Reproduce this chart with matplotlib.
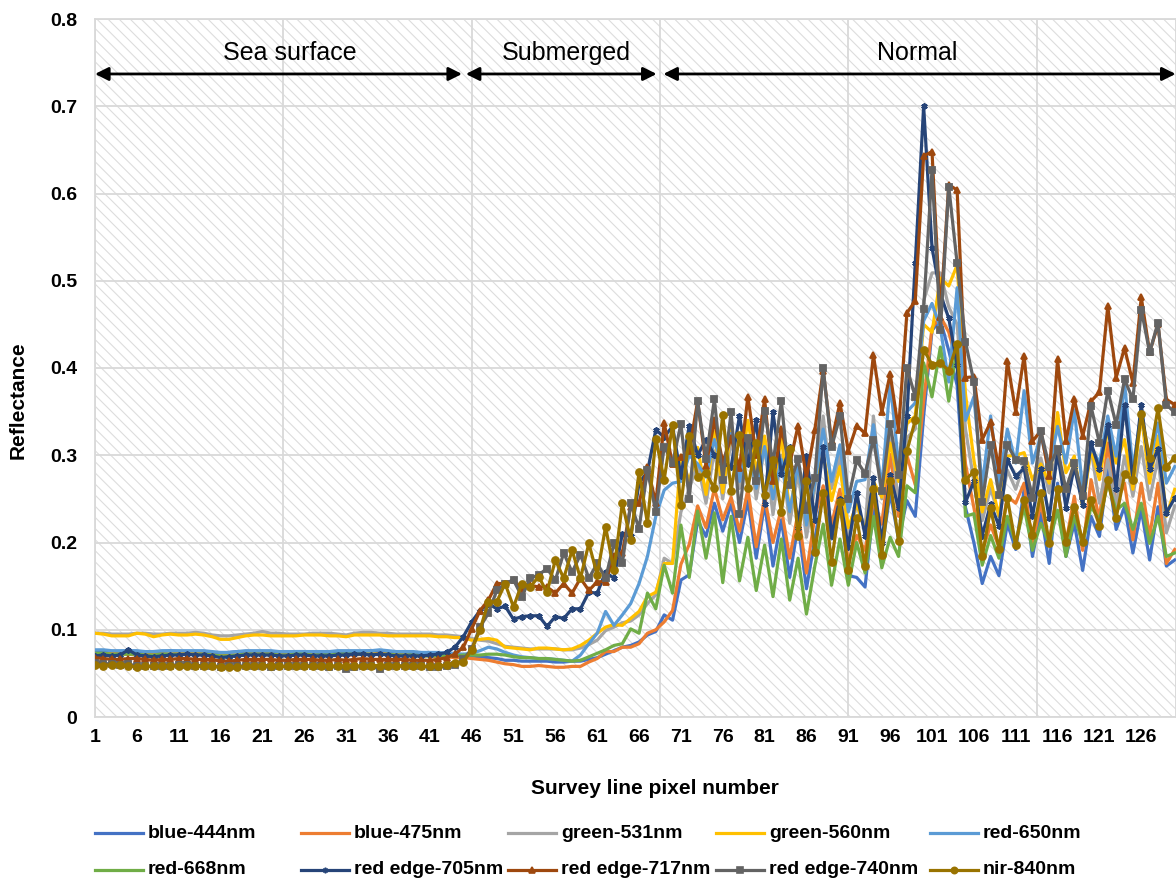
import numpy as np
import matplotlib.pyplot as plt
from matplotlib.lines import Line2D
from matplotlib.patches import Rectangle

plt.rcParams['font.family'] = ['Liberation Sans', 'DejaVu Sans']
plt.rcParams['font.weight'] = 'bold'
plt.rcParams['hatch.linewidth'] = 0.8

# survey line pixel numbers 1..130
pixel = np.arange(1, 131)

blue_444 = [0.075, 0.076, 0.075, 0.075, 0.076, 0.075, 0.074, 0.075, 0.075, 0.076,
            0.075, 0.075, 0.074, 0.075, 0.074, 0.073, 0.074, 0.075, 0.075, 0.075,
            0.075, 0.074, 0.074, 0.074, 0.075, 0.075, 0.074, 0.074, 0.074, 0.075,
            0.075, 0.075, 0.075, 0.076, 0.076, 0.075, 0.074, 0.074, 0.074, 0.073,
            0.073, 0.073,
            0.072, 0.071, 0.070, 0.070, 0.069, 0.068, 0.067, 0.065, 0.065, 0.064,
            0.064, 0.064, 0.064, 0.063, 0.063, 0.064, 0.064, 0.066, 0.068, 0.072,
            0.076, 0.080, 0.082, 0.086, 0.094, 0.098, 0.117, 0.111,
            0.157, 0.163, 0.225, 0.207, 0.245, 0.213, 0.244, 0.200, 0.248, 0.182,
            0.245, 0.173, 0.226, 0.160, 0.221, 0.147, 0.204, 0.257, 0.204, 0.252,
            0.162, 0.160, 0.149, 0.239, 0.191, 0.257, 0.204, 0.248, 0.230,
            0.345, 0.443, 0.455, 0.420, 0.380, 0.240, 0.200, 0.153, 0.184, 0.162,
            0.222, 0.192, 0.261, 0.184, 0.234, 0.176, 0.268, 0.184, 0.222, 0.168,
            0.230, 0.207, 0.284, 0.215, 0.241, 0.188, 0.238, 0.180, 0.241, 0.173,
            0.180]

blue_475 = [0.072, 0.072, 0.073, 0.072, 0.072, 0.071, 0.071, 0.072, 0.072, 0.072,
            0.073, 0.074, 0.073, 0.072, 0.071, 0.070, 0.071, 0.071, 0.072, 0.072,
            0.072, 0.072, 0.071, 0.071, 0.072, 0.072, 0.071, 0.070, 0.070, 0.071,
            0.071, 0.071, 0.072, 0.072, 0.073, 0.072, 0.071, 0.071, 0.070, 0.070,
            0.070, 0.069,
            0.069, 0.068, 0.068, 0.067, 0.066, 0.065, 0.063, 0.061, 0.060, 0.058,
            0.058, 0.059, 0.058, 0.057, 0.057, 0.058, 0.058, 0.063, 0.067, 0.075,
            0.075, 0.080, 0.080, 0.084, 0.096, 0.100, 0.109, 0.122,
            0.175, 0.198, 0.242, 0.217, 0.262, 0.226, 0.252, 0.213, 0.261, 0.195,
            0.252, 0.200, 0.239, 0.182, 0.235, 0.165, 0.230, 0.265, 0.221, 0.261,
            0.176, 0.208, 0.191, 0.248, 0.221, 0.301, 0.230, 0.300, 0.266,
            0.362, 0.446, 0.459, 0.441, 0.406, 0.290, 0.240, 0.190, 0.220, 0.195,
            0.253, 0.245, 0.268, 0.199, 0.245, 0.199, 0.261, 0.199, 0.253, 0.191,
            0.272, 0.226, 0.314, 0.245, 0.268, 0.203, 0.268, 0.207, 0.268, 0.176,
            0.192]

green_531 = [0.096, 0.096, 0.095, 0.095, 0.095, 0.096, 0.096, 0.095, 0.095, 0.096,
             0.096, 0.096, 0.097, 0.096, 0.094, 0.093, 0.093, 0.094, 0.095, 0.096,
             0.098, 0.096, 0.096, 0.095, 0.095, 0.095, 0.096, 0.096, 0.096, 0.095,
             0.094, 0.096, 0.097, 0.097, 0.096, 0.096, 0.095, 0.095, 0.095, 0.095,
             0.095, 0.094,
             0.094, 0.093, 0.092, 0.090, 0.088, 0.087, 0.084, 0.081, 0.080, 0.079,
             0.078, 0.078, 0.078, 0.078, 0.077, 0.077, 0.079, 0.083, 0.088, 0.099,
             0.103, 0.108, 0.110, 0.117, 0.130, 0.140, 0.182, 0.176,
             0.235, 0.262, 0.290, 0.245, 0.305, 0.250, 0.318, 0.262, 0.320, 0.250,
             0.310, 0.232, 0.300, 0.222, 0.280, 0.206, 0.262, 0.345, 0.262, 0.300,
             0.200, 0.245, 0.215, 0.345, 0.250, 0.330, 0.245, 0.320, 0.330,
             0.477, 0.509, 0.509, 0.470, 0.450, 0.330, 0.270, 0.225, 0.262, 0.230,
             0.283, 0.261, 0.291, 0.253, 0.297, 0.257, 0.307, 0.245, 0.295, 0.245,
             0.307, 0.245, 0.295, 0.242, 0.299, 0.253, 0.310, 0.249, 0.297, 0.211,
             0.242]

green_560 = [0.096, 0.095, 0.093, 0.093, 0.093, 0.096, 0.095, 0.092, 0.094, 0.095,
             0.094, 0.094, 0.095, 0.094, 0.092, 0.089, 0.089, 0.091, 0.093, 0.094,
             0.094, 0.093, 0.093, 0.093, 0.093, 0.094, 0.094, 0.094, 0.093, 0.093,
             0.092, 0.094, 0.094, 0.094, 0.094, 0.093, 0.093, 0.093, 0.093, 0.093,
             0.093, 0.092,
             0.092, 0.091, 0.091, 0.088, 0.089, 0.090, 0.088, 0.080, 0.079, 0.078,
             0.077, 0.079, 0.079, 0.078, 0.077, 0.078, 0.082, 0.088, 0.096, 0.103,
             0.106, 0.105, 0.113, 0.121, 0.138, 0.143, 0.176, 0.176,
             0.300, 0.270, 0.309, 0.255, 0.327, 0.257, 0.332, 0.274, 0.340, 0.283,
             0.322, 0.257, 0.322, 0.235, 0.292, 0.221, 0.270, 0.301, 0.248, 0.287,
             0.217, 0.244, 0.213, 0.270, 0.252, 0.314, 0.270, 0.336, 0.345,
             0.450, 0.441, 0.503, 0.494, 0.518, 0.370, 0.295, 0.235, 0.272, 0.230,
             0.299, 0.300, 0.303, 0.272, 0.290, 0.268, 0.349, 0.280, 0.299, 0.241,
             0.307, 0.272, 0.330, 0.291, 0.318, 0.261, 0.347, 0.268, 0.322, 0.230,
             0.261]

red_650 = [0.077, 0.077, 0.076, 0.076, 0.076, 0.076, 0.075, 0.075, 0.076, 0.076,
           0.076, 0.076, 0.076, 0.076, 0.075, 0.074, 0.074, 0.075, 0.076, 0.076,
           0.076, 0.076, 0.075, 0.075, 0.075, 0.075, 0.075, 0.075, 0.075, 0.076,
           0.076, 0.076, 0.076, 0.076, 0.077, 0.076, 0.075, 0.075, 0.075, 0.074,
           0.074, 0.074,
           0.073, 0.073, 0.072, 0.073, 0.076, 0.080, 0.078, 0.074, 0.071, 0.069,
           0.068, 0.067, 0.067, 0.066, 0.065, 0.064, 0.071, 0.084, 0.096, 0.121,
           0.105, 0.117, 0.130, 0.153, 0.184, 0.230, 0.260, 0.268,
           0.270, 0.300, 0.290, 0.275, 0.318, 0.285, 0.325, 0.270, 0.320, 0.262,
           0.310, 0.250, 0.295, 0.235, 0.290, 0.220, 0.268, 0.330, 0.270, 0.312,
           0.235, 0.270, 0.272, 0.335, 0.262, 0.384, 0.290, 0.350, 0.360,
           0.454, 0.474, 0.446, 0.384, 0.492, 0.340, 0.367, 0.265, 0.345, 0.268,
           0.330, 0.291, 0.374, 0.291, 0.322, 0.284, 0.333, 0.291, 0.352, 0.261,
           0.310, 0.291, 0.345, 0.299, 0.383, 0.284, 0.349, 0.291, 0.337, 0.268,
           0.287]

red_668 = [0.073, 0.073, 0.072, 0.072, 0.072, 0.072, 0.071, 0.071, 0.072, 0.072,
           0.072, 0.072, 0.072, 0.072, 0.071, 0.070, 0.070, 0.071, 0.072, 0.072,
           0.072, 0.072, 0.071, 0.071, 0.072, 0.072, 0.071, 0.071, 0.071, 0.072,
           0.072, 0.072, 0.072, 0.072, 0.072, 0.072, 0.071, 0.071, 0.071, 0.070,
           0.070, 0.070,
           0.070, 0.070, 0.071, 0.071, 0.071, 0.072, 0.072, 0.071, 0.069, 0.068,
           0.068, 0.067, 0.067, 0.066, 0.065, 0.064, 0.065, 0.069, 0.073, 0.077,
           0.082, 0.084, 0.101, 0.096, 0.142, 0.124, 0.174, 0.142,
           0.220, 0.160, 0.236, 0.182, 0.234, 0.154, 0.230, 0.156, 0.206, 0.145,
           0.197, 0.138, 0.204, 0.134, 0.182, 0.118, 0.173, 0.221, 0.151, 0.204,
           0.151, 0.200, 0.165, 0.230, 0.171, 0.206, 0.184, 0.265, 0.257,
           0.406, 0.367, 0.424, 0.362, 0.424, 0.230, 0.233, 0.174, 0.208, 0.182,
           0.230, 0.199, 0.241, 0.191, 0.222, 0.199, 0.237, 0.184, 0.230, 0.199,
           0.241, 0.226, 0.268, 0.237, 0.245, 0.215, 0.245, 0.199, 0.230, 0.184,
           0.188]

red_edge_705 = [0.070, 0.071, 0.070, 0.071, 0.077, 0.071, 0.070, 0.069, 0.070, 0.071,
                0.071, 0.072, 0.071, 0.071, 0.070, 0.068, 0.069, 0.070, 0.071, 0.071,
                0.071, 0.071, 0.070, 0.070, 0.071, 0.071, 0.070, 0.070, 0.070, 0.071,
                0.071, 0.072, 0.072, 0.071, 0.072, 0.071, 0.070, 0.070, 0.070, 0.070,
                0.071, 0.072,
                0.074, 0.080, 0.092, 0.109, 0.122, 0.130, 0.124, 0.127, 0.112, 0.115,
                0.116, 0.116, 0.104, 0.115, 0.113, 0.124, 0.124, 0.143, 0.142, 0.166,
                0.159, 0.210, 0.207, 0.268, 0.281, 0.329, 0.321, 0.333,
                0.276, 0.334, 0.300, 0.318, 0.300, 0.290, 0.287, 0.345, 0.290, 0.340,
                0.244, 0.349, 0.279, 0.309, 0.217, 0.299, 0.226, 0.309, 0.208, 0.250,
                0.195, 0.257, 0.208, 0.274, 0.200, 0.277, 0.239, 0.345, 0.520,
                0.700, 0.538, 0.485, 0.457, 0.404, 0.246, 0.270, 0.208, 0.244, 0.219,
                0.295, 0.276, 0.285, 0.230, 0.284, 0.228, 0.303, 0.240, 0.287, 0.243,
                0.314, 0.284, 0.335, 0.261, 0.358, 0.272, 0.358, 0.284, 0.307, 0.234,
                0.251]

red_edge_717 = [0.068, 0.067, 0.066, 0.066, 0.067, 0.067, 0.066, 0.065, 0.066, 0.066,
                0.067, 0.067, 0.066, 0.066, 0.066, 0.064, 0.064, 0.065, 0.066, 0.066,
                0.066, 0.066, 0.065, 0.065, 0.066, 0.066, 0.066, 0.065, 0.065, 0.066,
                0.065, 0.066, 0.067, 0.066, 0.066, 0.066, 0.066, 0.066, 0.065, 0.065,
                0.065, 0.066,
                0.068, 0.072, 0.080, 0.101, 0.122, 0.134, 0.153, 0.153, 0.157, 0.147,
                0.151, 0.149, 0.149, 0.142, 0.153, 0.142, 0.159, 0.145, 0.155, 0.155,
                0.184, 0.188, 0.241, 0.245, 0.287, 0.245, 0.337, 0.290,
                0.298, 0.305, 0.362, 0.288, 0.340, 0.292, 0.320, 0.285, 0.367, 0.300,
                0.364, 0.270, 0.330, 0.290, 0.334, 0.274, 0.329, 0.397, 0.316, 0.360,
                0.305, 0.334, 0.325, 0.415, 0.349, 0.393, 0.329, 0.463, 0.477,
                0.643, 0.648, 0.459, 0.610, 0.604, 0.389, 0.390, 0.318, 0.338, 0.283,
                0.408, 0.350, 0.414, 0.316, 0.328, 0.276, 0.410, 0.316, 0.364, 0.322,
                0.362, 0.372, 0.471, 0.389, 0.423, 0.383, 0.481, 0.418, 0.450, 0.364,
                0.358]

red_edge_740 = [0.062, 0.061, 0.061, 0.060, 0.061, 0.058, 0.058, 0.058, 0.059, 0.059,
                0.060, 0.060, 0.059, 0.059, 0.059, 0.057, 0.058, 0.058, 0.059, 0.059,
                0.058, 0.057, 0.058, 0.058, 0.058, 0.059, 0.059, 0.058, 0.057, 0.058,
                0.055, 0.057, 0.058, 0.058, 0.055, 0.059, 0.059, 0.058, 0.058, 0.058,
                0.057, 0.057,
                0.058, 0.060, 0.066, 0.078, 0.103, 0.119, 0.145, 0.153, 0.157, 0.138,
                0.159, 0.163, 0.170, 0.157, 0.188, 0.166, 0.186, 0.159, 0.176, 0.159,
                0.199, 0.176, 0.245, 0.216, 0.283, 0.235, 0.310, 0.291,
                0.336, 0.250, 0.362, 0.296, 0.364, 0.272, 0.349, 0.233, 0.320, 0.270,
                0.351, 0.290, 0.362, 0.266, 0.296, 0.237, 0.274, 0.400, 0.309, 0.345,
                0.250, 0.294, 0.279, 0.318, 0.259, 0.336, 0.277, 0.400, 0.367,
                0.468, 0.627, 0.443, 0.608, 0.520, 0.430, 0.384, 0.246, 0.312, 0.255,
                0.312, 0.295, 0.293, 0.251, 0.328, 0.287, 0.307, 0.261, 0.291, 0.253,
                0.356, 0.314, 0.374, 0.335, 0.387, 0.364, 0.467, 0.418, 0.452, 0.358,
                0.349]

nir_840 = [0.060, 0.059, 0.060, 0.060, 0.059, 0.057, 0.058, 0.058, 0.058, 0.058,
           0.059, 0.059, 0.058, 0.058, 0.058, 0.057, 0.057, 0.057, 0.058, 0.058,
           0.059, 0.059, 0.058, 0.058, 0.058, 0.058, 0.058, 0.058, 0.058, 0.059,
           0.058, 0.058, 0.059, 0.059, 0.059, 0.059, 0.059, 0.058, 0.058, 0.058,
           0.058, 0.058,
           0.060, 0.062, 0.063, 0.077, 0.100, 0.132, 0.132, 0.153, 0.126, 0.153,
           0.149, 0.161, 0.143, 0.180, 0.159, 0.191, 0.159, 0.199, 0.163, 0.218,
           0.168, 0.245, 0.203, 0.281, 0.222, 0.319, 0.272, 0.335,
           0.243, 0.322, 0.275, 0.280, 0.262, 0.346, 0.259, 0.323, 0.263, 0.314,
           0.255, 0.294, 0.235, 0.307, 0.208, 0.270, 0.189, 0.257, 0.178, 0.246,
           0.169, 0.228, 0.173, 0.261, 0.186, 0.270, 0.202, 0.305, 0.340,
           0.421, 0.404, 0.406, 0.397, 0.428, 0.272, 0.281, 0.184, 0.239, 0.193,
           0.251, 0.197, 0.249, 0.209, 0.257, 0.199, 0.261, 0.201, 0.241, 0.201,
           0.249, 0.219, 0.272, 0.228, 0.278, 0.272, 0.347, 0.297, 0.354, 0.287,
           0.297]

names = ['blue-444nm', 'blue-475nm', 'green-531nm', 'green-560nm', 'red-650nm',
         'red-668nm', 'red edge-705nm', 'red edge-717nm', 'red edge-740nm', 'nir-840nm']
values = [blue_444, blue_475, green_531, green_560, red_650,
          red_668, red_edge_705, red_edge_717, red_edge_740, nir_840]
colors = ['#4472C4', '#ED7D31', '#A5A5A5', '#FFC000', '#5B9BD5',
          '#70AD47', '#264478', '#9E480E', '#636363', '#997300']
markers = [None, None, None, None, None, None, (6, 2, 0), '^', 's', 'o']
msizes = [0, 0, 0, 0, 0, 0, 4.5, 5, 4.5, 5]

W, H = 1176, 885
fig = plt.figure(figsize=(W / 100, H / 100), dpi=100)
ax = fig.add_axes([95 / W, 1 - 717 / H, 1081 / W, 698 / H])

# hatched plot background
ax.add_patch(Rectangle((0, 0), 1, 1, transform=ax.transAxes, facecolor='white',
                       edgecolor='#dddddd', hatch='\\\\\\', lw=0, zorder=0))
ax.set_axisbelow(True)
ax.yaxis.grid(True, color='#d9d9d9', lw=1.3, zorder=0.5)
for gx in np.arange(1, 131, 22.5):
    ax.axvline(gx, color='#d9d9d9', lw=1.3, zorder=0.5)

for name, vals, c, m, ms in zip(names, values, colors, markers, msizes):
    ax.plot(pixel, vals, color=c, lw=2.3, marker=m, ms=ms, mew=1.3,
            solid_joinstyle='round', zorder=3)

ax.set_xlim(1, 130.15)
ax.set_ylim(0, 0.8)
ax.set_xticks(np.arange(1, 127, 5))
ax.set_xticklabels([str(v) for v in range(1, 127, 5)])
yt = np.round(np.arange(0, 0.81, 0.1), 1)
ax.set_yticks(yt)
ax.set_yticklabels(['0'] + [f'{v:.1f}' for v in yt[1:]])
ax.tick_params(length=0, labelsize=14)
ax.tick_params(axis='y', pad=13)
ax.tick_params(axis='x', pad=9)
for s in ax.spines.values():
    s.set_color('#d9d9d9')
    s.set_linewidth(1.3)

# section arrows and labels
arrow_y = 0.737
sections = [('Sea surface', 1, 44.85, 24.3), ('Submerged', 45.3, 68.1, 57.3),
            ('Normal', 68.9, 130.1, 99.2)]
for label, x0, x1, xt in sections:
    ax.annotate('', xy=(x1, arrow_y), xytext=(x0, arrow_y),
                arrowprops=dict(arrowstyle='<|-|>', color='black', lw=2,
                                mutation_scale=20, shrinkA=0, shrinkB=0),
                annotation_clip=False, zorder=5)
    ax.text(xt, 0.761, label, ha='center', va='center', fontsize=18,
            fontweight='normal', zorder=5)

fig.text(655 / W, 1 - 789 / H, 'Survey line pixel number', ha='center', va='center',
         fontsize=15)
fig.text(18 / W, 1 - 400 / H, 'Reflectance', ha='center', va='center',
         rotation=90, fontsize=15)

# legend laid out like the spreadsheet legend
col_x = [95, 301, 508, 716, 930]
row_y = [833, 870]
for k, (name, c, m, ms) in enumerate(zip(names, colors, markers, msizes)):
    x0 = col_x[k % 5]
    y0 = 1 - row_y[k // 5] / H
    fig.add_artist(Line2D([x0 / W, (x0 + 48) / W], [y0, y0], color=c, lw=2.3))
    if m is not None:
        fig.add_artist(Line2D([(x0 + 24) / W], [y0], color=c, marker=m,
                              ms=ms - 0.5, mew=1.2, lw=0))
    fig.text((x0 + 53) / W, y0, name, va='center', ha='left', fontsize=14)

fig.savefig('out.png', dpi=100)
